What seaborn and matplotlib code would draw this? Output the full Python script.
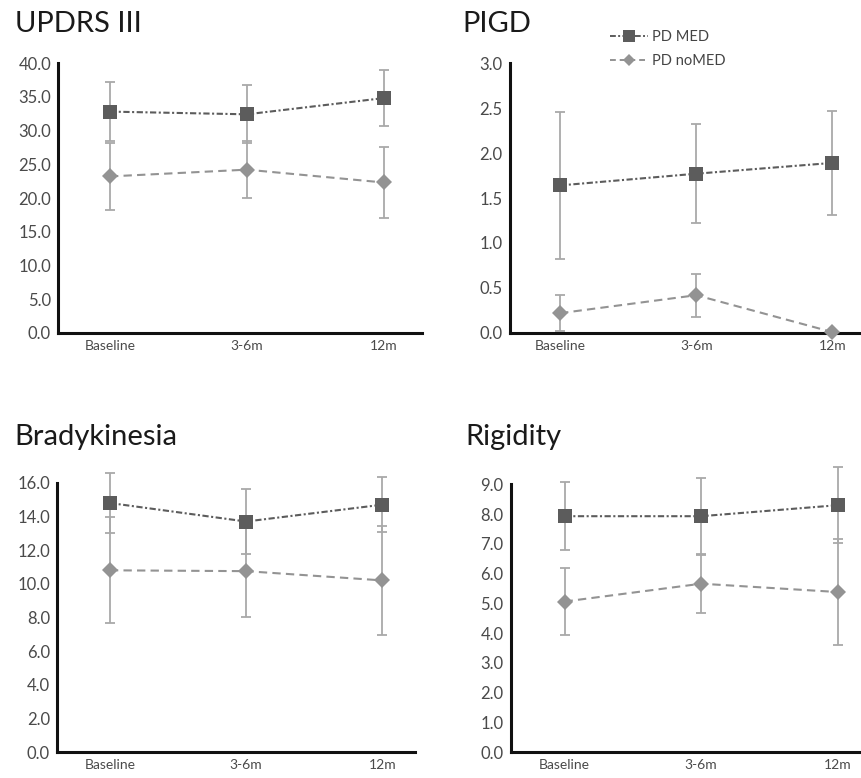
import matplotlib
matplotlib.use("Agg")
import matplotlib.pyplot as plt
import seaborn as sns
import pandas as pd
import numpy as np
from matplotlib.lines import Line2D

# ---------------- data ----------------
timepoints = ["Baseline", "3-6m", "12m"]
groups = ["PD MED", "PD noMED"]

updrs_med = [32.8, 32.4, 34.8]
updrs_med_sd = [4.4, 4.3, 4.1]
updrs_nomed = [23.2, 24.2, 22.3]
updrs_nomed_sd = [5.0, 4.2, 5.2]

pigd_med = [1.64, 1.77, 1.89]
pigd_med_sd = [0.82, 0.55, 0.58]
pigd_nomed = [0.22, 0.42, 0.01]
pigd_nomed_sd = [0.20, 0.24, 0.0]

brady_med = [14.8, 13.7, 14.7]
brady_med_sd = [1.8, 1.95, 1.65]
brady_nomed = [10.8, 10.75, 10.2]
brady_nomed_sd = [3.15, 2.75, 3.25]

rig_med = [7.93, 7.93, 8.3]
rig_med_sd = [1.15, 1.27, 1.28]
rig_nomed = [5.06, 5.66, 5.38]
rig_nomed_sd = [1.14, 0.97, 1.78]

titles = ["UPDRS III", "PIGD", "Bradykinesia", "Rigidity"]
ymax = [40.0, 3.0, 16.0, 9.0]
ystep = [5.0, 0.5, 2.0, 1.0]

panels = [
    (updrs_med, updrs_med_sd, updrs_nomed, updrs_nomed_sd),
    (pigd_med, pigd_med_sd, pigd_nomed, pigd_nomed_sd),
    (brady_med, brady_med_sd, brady_nomed, brady_nomed_sd),
    (rig_med, rig_med_sd, rig_nomed, rig_nomed_sd),
]

# ---------------- style ----------------
sns.set_theme(style="white")
plt.rcParams["font.family"] = ["Lato", "DejaVu Sans"]

med_col = "#5c5c5c"
nomed_col = "#939393"
err_col = "#a9a9a9"

fig = plt.figure(figsize=(8.61, 7.78), dpi=100)

# axes rectangles [left, bottom, width, height]
rects = [
    [0.0674, 0.572, 0.4226, 0.347],
    [0.592, 0.572, 0.408, 0.347],
    [0.066, 0.0334, 0.416, 0.346],
    [0.593, 0.0334, 0.407, 0.344],
]
xlims = [(-0.38, 2.28), (-0.37, 2.21), (-0.39, 2.24), (-0.395, 2.17)]
title_pos = [(0.017, 0.959), (0.537, 0.959), (0.017, 0.428), (0.541, 0.428)]

for i, (med, med_sd, nomed, nomed_sd) in enumerate(panels):
    ax = fig.add_axes(rects[i])
    df = pd.DataFrame({
        "time": timepoints * 2,
        "value": list(med) + list(nomed),
        "group": [groups[0]] * 3 + [groups[1]] * 3,
    })
    xpos = np.arange(len(timepoints))
    # error bars (behind)
    ax.errorbar(xpos, med, yerr=med_sd, fmt="none", ecolor=err_col,
                elinewidth=1.3, capsize=3.5, capthick=1.3, zorder=1, clip_on=False)
    ax.errorbar(xpos, nomed, yerr=nomed_sd, fmt="none", ecolor=err_col,
                elinewidth=1.3, capsize=3.5, capthick=1.3, zorder=1, clip_on=False)
    sns.lineplot(data=df, x="time", y="value", hue="group", style="group",
                 palette={groups[0]: med_col, groups[1]: nomed_col},
                 markers={groups[0]: "s", groups[1]: "D"},
                 dashes={groups[0]: (3, 1.2, 1, 1.2), groups[1]: (4, 2.5)},
                 linewidth=1.5, markersize=10.5, markeredgewidth=0,
                 ax=ax, legend=False, zorder=3, clip_on=False)
    for ln in ax.get_lines():
        if ln.get_marker() == "D":
            ln.set_markersize(8)
        ln.set_clip_on(False)

    ax.set_xlim(*xlims[i])
    ax.set_ylim(0, ymax[i])
    ax.set_yticks(np.arange(0, ymax[i] + ystep[i] / 2, ystep[i]))
    ax.set_yticklabels([f"{v:.1f}" for v in ax.get_yticks()])
    ax.set_xticks(xpos)
    ax.set_xticklabels(timepoints)
    ax.set_xlabel("")
    ax.set_ylabel("")
    for s in ["top", "right"]:
        ax.spines[s].set_visible(False)
    for s in ["left", "bottom"]:
        ax.spines[s].set_color("#111111")
        ax.spines[s].set_linewidth(2.2)
    ax.tick_params(axis="y", length=0, pad=5, labelsize=12, labelcolor="#4a4a4a")
    ax.tick_params(axis="x", length=0, pad=5, labelsize=10, labelcolor="#4a4a4a")
    ax.patch.set_alpha(0)

    fig.text(title_pos[i][0], title_pos[i][1], titles[i], fontsize=21,
             color="#1a1a1a", ha="left", va="baseline")

    if i == 1:
        handles = [
            Line2D([0], [0], color=med_col, linestyle=(0, (3, 1.2, 1, 1.2)),
                   linewidth=1.4, marker="s", markersize=8, markeredgewidth=0),
            Line2D([0], [0], color=nomed_col, linestyle=(0, (3, 2)),
                   linewidth=1.4, marker="D", markersize=6, markeredgewidth=0),
        ]
        fig.legend(handles, groups, loc="upper left",
                   bbox_to_anchor=(0.693, 0.978), frameon=False,
                   fontsize=10.5, handlelength=2.6, handletextpad=0.3,
                   labelspacing=0.7, labelcolor="#444444")

fig.savefig("out.png", dpi=100)
